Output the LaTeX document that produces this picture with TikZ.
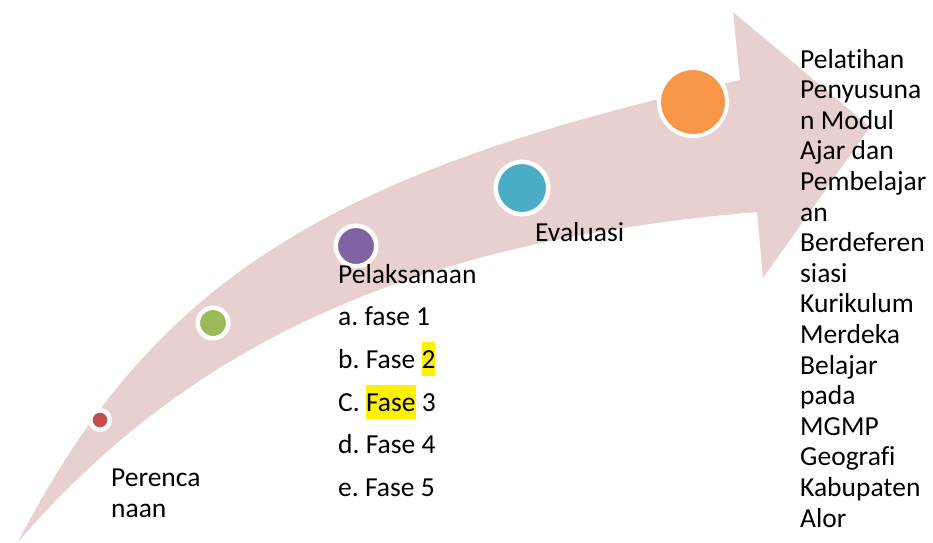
\documentclass[tikz,border=0pt]{standalone}
\usepackage{fontspec}
\setmainfont{Carlito}[Ligatures={NoCommon}]
\frenchspacing
\definecolor{band}{RGB}{232,208,209}
\definecolor{cred}{RGB}{192,80,77}
\definecolor{cgreen}{RGB}{155,187,89}
\definecolor{cpurple}{RGB}{128,100,162}
\definecolor{cteal}{RGB}{75,172,198}
\definecolor{corange}{RGB}{247,150,70}
\newcommand{\hlt}[1]{{\setlength\fboxsep{0pt}\colorbox{yellow}{\rule[-8pt]{0pt}{34pt}#1}}}
\tikzset{
  dot/.style={circle, draw=white, line width=4.5pt, inner sep=0pt},
  lbl/.style={anchor=base west, inner sep=0pt, font=\fontsize{27.5}{33.5}\selectfont},
  rlbl/.style={anchor=base west, inner sep=0pt, font=\fontsize{27.5}{30.6}\selectfont}
}
\begin{document}
\begin{tikzpicture}[x=1pt,y=-1pt]
\useasboundingbox (0,0) rectangle (933,542);
% curved arrow
\fill[band] (18,542) .. controls (152,283) and (325,172) .. (740,80)
  -- (733,12) -- (870,127) -- (763,278) -- (757,212)
  .. controls (415,241) and (193,340) .. (18,542) -- cycle;
% dots
\node[dot, fill=cred, minimum size=19.5pt] (c1) at (100,420) {};
\node[dot, fill=cgreen, minimum size=30.5pt] (c2) at (213,323) {};
\node[dot, fill=cpurple, minimum size=40.5pt] (c3) at (356,246) {};
\node[dot, fill=cteal, minimum size=52.5pt] (c4) at (522,188) {};
\node[dot, fill=corange, line width=4pt, minimum size=68pt] (c5) at (693,102) {};
% labels
\node[lbl] (t1) at (111,486) {\begin{tabular}[t]{@{}l@{}}Perenca\\[-2.5pt] naan\end{tabular}};
\node[lbl] (t2) at (338,283) {Pelaksanaan};
\node[lbl] (t2a) at (338,325) {a. fase 1};
\node[lbl] (t2b) at (338,368) {b. Fase \hlt{2}};
\node[lbl] (t2c) at (338,411) {C. \hlt{Fase} 3};
\node[lbl] (t2d) at (338,453) {d. Fase 4};
\node[lbl] (t2e) at (338,496) {e. Fase 5};
\node[lbl] (t3) at (535,241) {Evaluasi};
\node[rlbl] (t4) at (800,68) {\fontsize{27.5}{30.6}\selectfont\begin{tabular}[t]{@{}l@{}}
Pelatihan\\ Penyusuna\\ n Modul\\ Ajar dan\\ Pembelajar\\ an\\ Berdeferen\\ siasi\\ Kurikulum\\ Merdeka\\ Belajar\\ pada\\ MGMP\\ Geografi\\ Kabupaten\\ Alor\end{tabular}};
\end{tikzpicture}
\end{document}
